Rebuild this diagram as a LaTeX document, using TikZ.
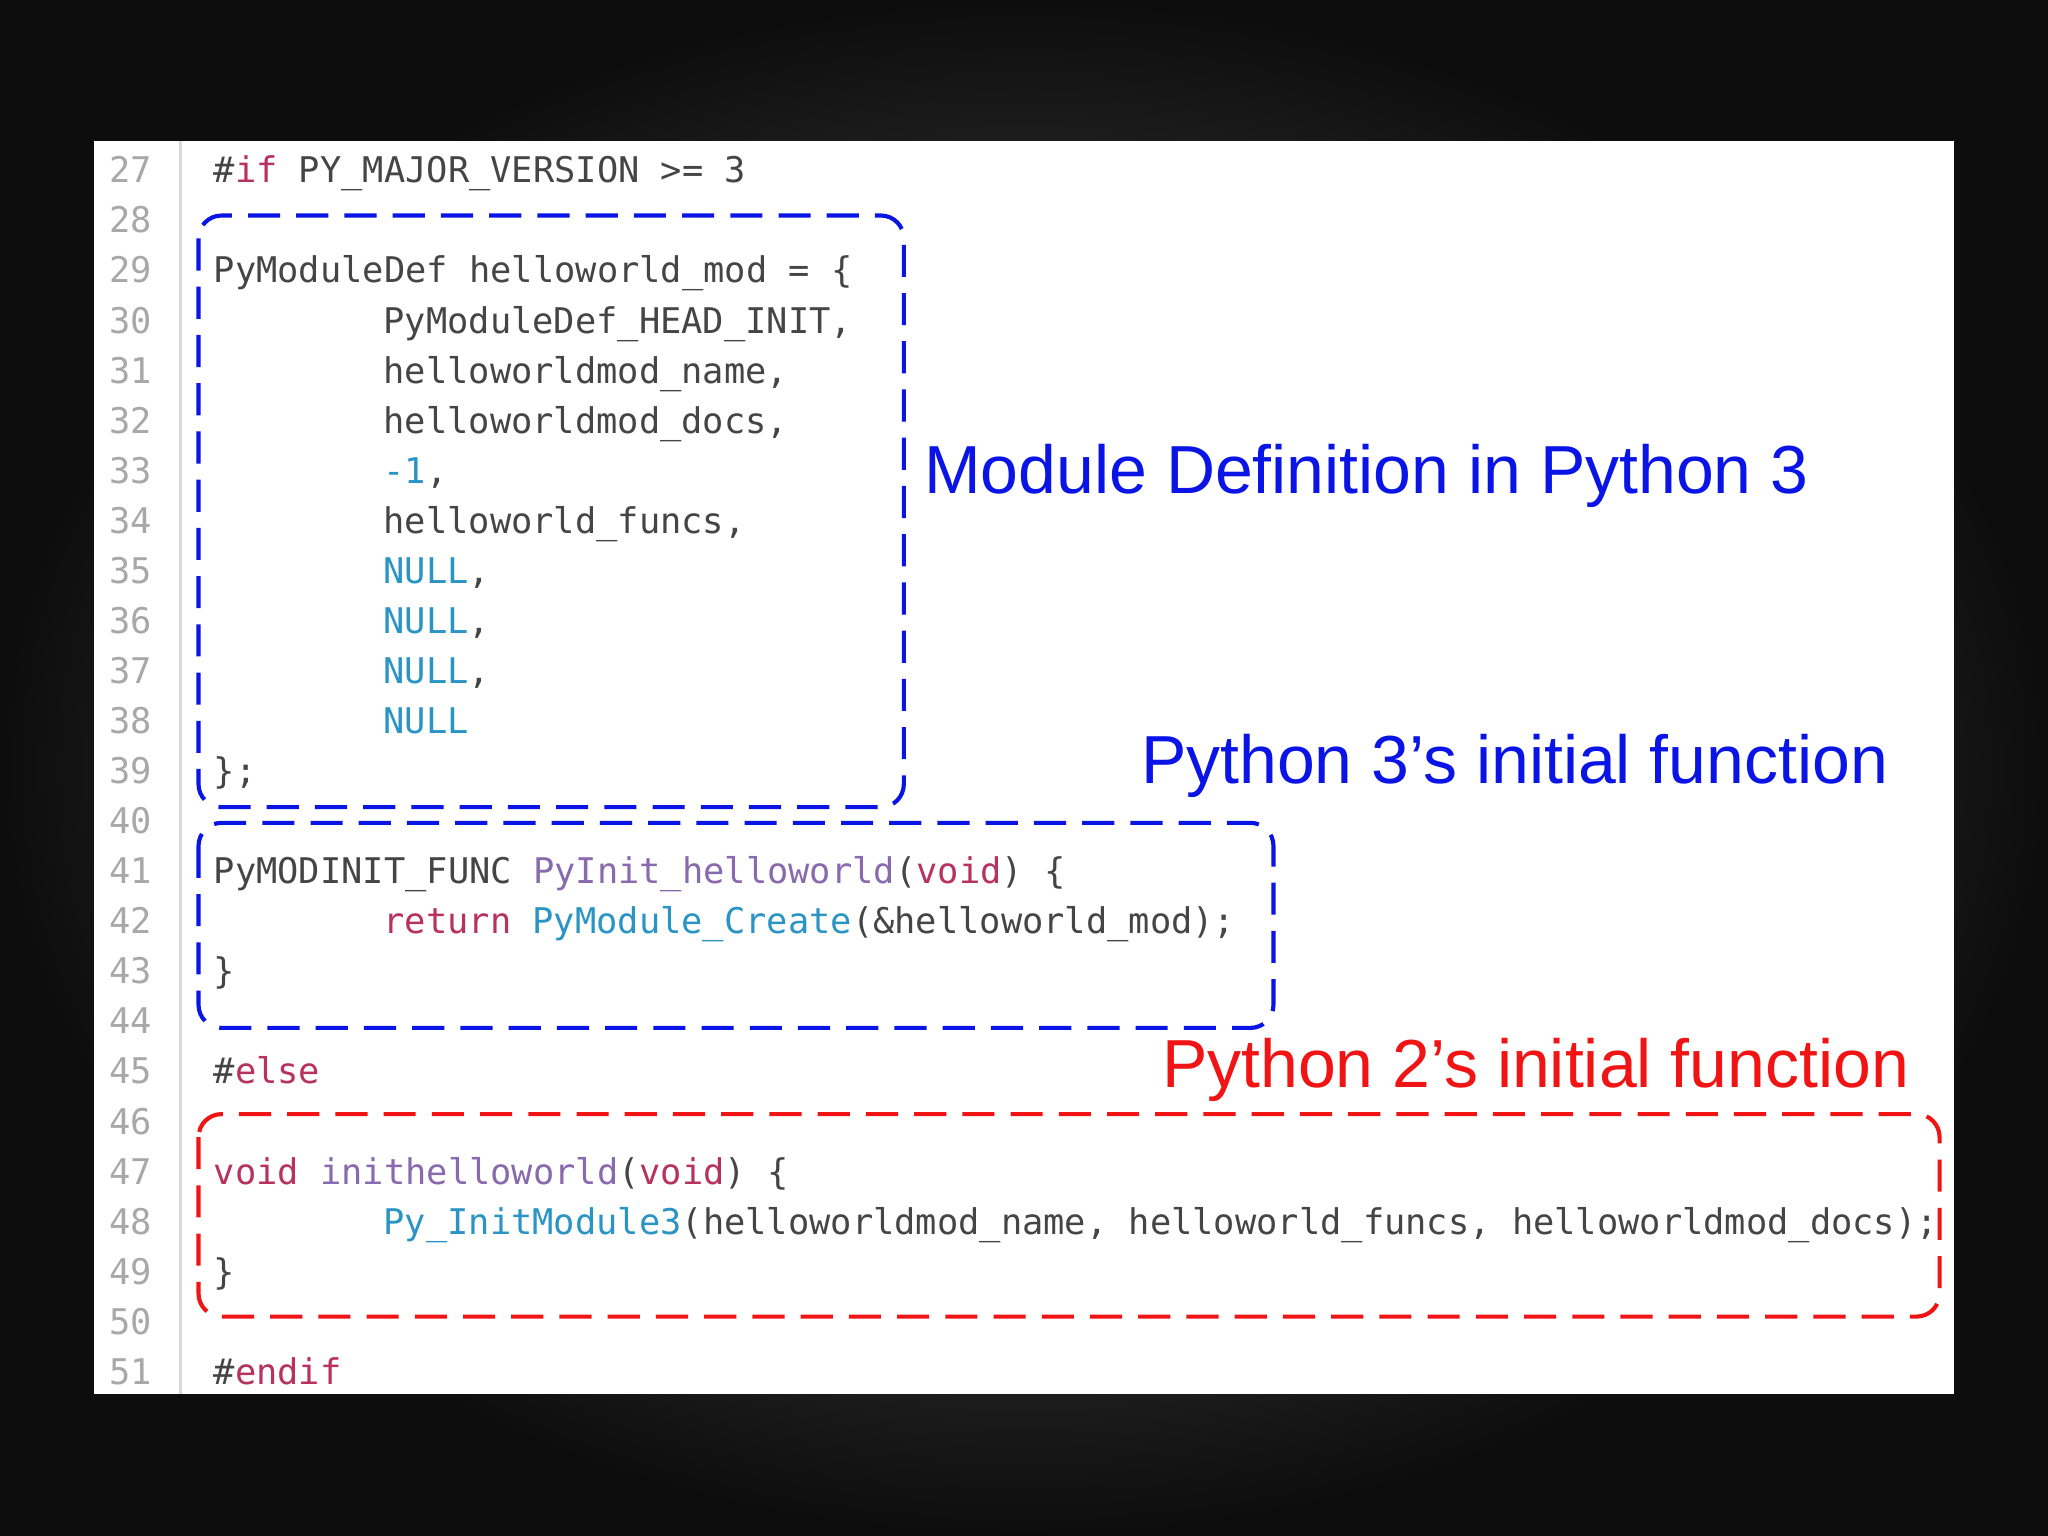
\documentclass[tikz,border=0pt]{standalone}
\usepackage{fontspec}
\setmainfont{Liberation Sans}
\newfontfamily\codefont{DejaVu Sans Mono}
\definecolor{kw}{HTML}{B8325E}
\definecolor{fn}{HTML}{8A6AAE}
\definecolor{cy}{HTML}{2A95C5}
\definecolor{tx}{HTML}{454545}
\definecolor{ln}{HTML}{A8A8A8}
\definecolor{bl}{HTML}{0A14E6}
\definecolor{rd}{HTML}{F01414}
\begin{document}
\begin{tikzpicture}[x=0.01cm,y=-0.01cm,
  code/.style={anchor=base west,inner sep=0,font=\codefont\fontsize{7.7pt}{9pt}\selectfont,text=tx},
  lnum/.style={anchor=base east,inner sep=0,font=\codefont\fontsize{7.7pt}{9pt}\selectfont,text=ln},
  dbox/.style={line width=0.9pt,dash pattern=on 7pt off 3.5pt,rounded corners=5pt},
  lab/.style={anchor=base west,inner sep=0,font=\fontsize{14.8pt}{16pt}\selectfont}]
\useasboundingbox (0,0) rectangle (1568,1176);
\shade[inner color=black!62, outer color=black!95] (0,0) rectangle (1568,1176);
\fill[white] (72,108) rectangle (1496,1067);
\draw[black!15,line width=0.6pt] (138,108) -- (138,1067);
\foreach \n [count=\i from 0] in {27,...,51}
  \node[lnum] (n\n) at (117,{140+\i*38.33}) {\n};
\def\Y#1{{140+(#1-27)*38.33}}
\node[code] (l27) at (163,\Y{27}) {\#\textcolor{kw}{if} PY\_MAJOR\_VERSION >= 3};
\node[code] (l29) at (163,\Y{29}) {PyModuleDef helloworld\_mod = \{};
\node[code] (l30) at (293,\Y{30}) {PyModuleDef\_HEAD\_INIT,};
\node[code] (l31) at (293,\Y{31}) {helloworldmod\_name,};
\node[code] (l32) at (293,\Y{32}) {helloworldmod\_docs,};
\node[code] (l33) at (293,\Y{33}) {\textcolor{cy}{-1},};
\node[code] (l34) at (293,\Y{34}) {helloworld\_funcs,};
\node[code] (l35) at (293,\Y{35}) {\textcolor{cy}{NULL},};
\node[code] (l36) at (293,\Y{36}) {\textcolor{cy}{NULL},};
\node[code] (l37) at (293,\Y{37}) {\textcolor{cy}{NULL},};
\node[code] (l38) at (293,\Y{38}) {\textcolor{cy}{NULL}};
\node[code] (l39) at (163,\Y{39}) {\};};
\node[code] (l41) at (163,\Y{41}) {PyMODINIT\_FUNC \textcolor{fn}{PyInit\_helloworld}(\textcolor{kw}{void}) \{};
\node[code] (l42) at (293,\Y{42}) {\textcolor{kw}{return} \textcolor{cy}{PyModule\_Create}(\&helloworld\_mod);};
\node[code] (l43) at (163,\Y{43}) {\}};
\node[code] (l45) at (163,\Y{45}) {\#\textcolor{kw}{else}};
\node[code] (l47) at (163,\Y{47}) {\textcolor{kw}{void} \textcolor{fn}{inithelloworld}(\textcolor{kw}{void}) \{};
\node[code] (l48) at (293,\Y{48}) {\textcolor{cy}{Py\_InitModule3}(helloworldmod\_name, helloworld\_funcs, helloworldmod\_docs);};
\node[code] (l49) at (163,\Y{49}) {\}};
\node[code] (l51) at (163,\Y{51}) {\#\textcolor{kw}{endif}};
\draw[dbox,bl] (152,165) rectangle (692,618);
\draw[dbox,bl] (152,630) rectangle (975,787);
\draw[dbox,rd] (152,853) rectangle (1485,1008);
\node[lab,text=bl] (t1) at (707,378) {Module Definition in Python 3};
\node[lab,text=bl] (t2) at (873,600) {Python 3’s initial function};
\node[lab,text=rd] (t3) at (889,833) {Python 2’s initial function};
\end{tikzpicture}
\end{document}
